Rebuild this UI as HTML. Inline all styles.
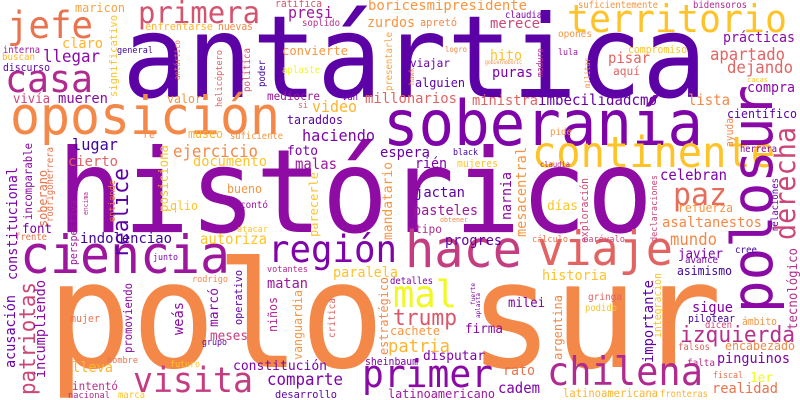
<!DOCTYPE html>
<html><head><meta charset="utf-8"><style>
html,body{margin:0;padding:0;background:#fff;}
svg{display:block;}
text{font-family:"DejaVu Sans Mono","Liberation Mono",monospace;}
</style></head><body>
<svg id="cloud" width="800" height="400" viewBox="0 0 800 400" xmlns="http://www.w3.org/2000/svg">
<rect width="800" height="400" fill="#fff"/>
</svg>
<script>
// horizontal (rot 0): xs = left, x1s = right, ys = baseline
// vertical  (rot 1): xs = baseline x, ys = bottom y, x1s = top y
const words = [
"antártica","histórico","polo sur","soberanía","oposición","territorio","jefe","casa","primera","ciencia",
"región","hace","viaje","continente","paz","derecha","polosur","visita","primer","chilena",
"mal","trump","izquierda","patriotas","presi","boricesmipresidente","zurdos","apretó","maricon","ratifica",
"enfrentarse","nuevas","soplido","significativo","claro","llegar","interna","buscan","discurso","general",
"convierte","antártico","helicóptero","política","poder","aplaste","presentarle","hawk","viajar","alguien",
"logro","mueren","vivía","valor","mediocre","van","si","video","millonarios","taraddos",
"suficientemente","bidensoros","claudia","merece","opones","prácticas","hito","compromiso","lula","pisar",
"apartado","dejando","aquí","gobiernoboric","puras","maduro","militar","cacas","compra","ministra",
"imbecilidadcmo","lista","científico","pide","ayuda","herrera","black","mujeres","claudia","celebran",
"mesacentral","narnia","exploración","declaraciones","relaciones","jactan","pasteles","obtener","días","refuerza",
"asaltanestos","progres","cálculo","earévalo","mundo","cree","javier","avance","tecnológico","historia",
"asimismo","fuerte","aplasta","integración","gringa","milei","sigue","podido","importante","argentina",
"pilotear","ámbito","dicen","firma","falsos","encabezado","disputar","rato","pinguinos","falta",
"fiscal","1er","cadem","realidad","latinoamericana","fronteras","latinoamericano","acusación","incumpliendo","promoviendo",
"weás","marcó","operativo","niños","vanguardia","critica","estratégico","rodrigo","mujer","matan",
"meses","cachete","patria","grupo","hombre","lleva","futuro","constitución","sheinbaum","comparte",
"intentó","nacional","marca","desarrollo","detalles","votantes","paralela","constitucional","incomparable","soberano",
"rodrigoherrera","perspectiva","encima","realice","entiende","posiciona","parecerle","mandatario","font","frente",
"indolenciao","autoriza","junto","atacar","qlio","contó","bueno","tipo","espera","haciendo",
"lugar","ejercicio","foto","cierto","documento","malas","rién","museo","suficiente","re"];
const xs = [
122,57,47,383,10,567,7,5,138,20,
268,405,537,532,673,795,772,133,362,547,
393,393,680,35,288,368,367,420,75,275,
145,218,302,117,62,43,3,2,3,117,
282,180,222,250,265,282,392,414,410,415,
445,58,13,167,267,342,298,312,365,287,
578,693,505,490,558,723,490,628,558,608,
710,727,613,485,492,543,590,747,747,472,
538,688,727,550,733,740,453,457,540,660,
526,511,588,657,778,415,413,440,547,678,
662,445,532,583,670,735,678,685,797,542,
677,475,480,661,588,508,692,585,653,562,
688,742,705,465,678,725,423,503,717,687,
713,750,498,712,563,660,388,15,45,132,
183,218,242,277,302,335,388,192,70,267,
210,390,388,202,107,72,170,233,365,267,
72,68,118,275,390,267,333,17,32,47,
53,77,88,128,115,168,318,392,22,15,
80,200,153,237,170,240,227,415,380,302,
72,173,287,68,193,295,415,188,230,143];
const x1s = [
707,653,722,703,280,787,93,93,260,230,
397,522,673,775,727,127,85,253,493,703,
457,457,795,282,333,527,415,457,125,322,
213,253,340,15,103,100,40,35,50,153,
348,40,50,48,60,320,32,68,450,465,
467,108,50,202,320,358,308,357,457,343,
658,747,542,540,592,795,522,687,578,650,
785,793,640,522,533,48,58,768,795,538,
657,730,797,572,118,777,478,498,570,727,
147,172,178,175,178,465,478,468,578,733,
762,502,568,625,717,757,723,718,248,607,
732,283,293,273,622,545,733,617,280,295,
735,777,732,503,710,795,485,535,790,715,
743,773,540,778,658,708,495,295,280,283,
302,288,270,297,290,298,277,228,100,308,
248,440,450,227,138,113,200,327,418,343,
118,110,145,337,433,308,398,167,143,170,
147,200,192,168,180,145,172,162,52,47,
172,267,178,268,198,268,262,442,430,375,
118,258,318,118,267,337,447,223,283,155];
const ys = [
97,232,367,145,134,32,38,92,23,273,
262,267,265,167,205,240,313,392,387,385,
307,325,342,395,18,10,27,26,12,7,
30,30,26,97,48,62,53,60,71,53,
55,80,107,92,87,73,91,85,67,87,
52,103,103,103,100,100,108,112,103,124,
8,8,18,28,37,42,60,53,55,63,
60,73,75,64,77,77,88,82,92,105,
105,105,118,135,147,152,155,167,167,180,
237,220,243,242,232,197,215,222,210,212,
227,245,242,242,245,253,258,263,330,280,
275,305,318,338,300,307,312,311,363,360,
322,325,328,333,350,350,360,375,363,366,
378,382,393,393,397,397,398,368,378,353,
335,327,325,332,360,338,355,282,322,288,
340,335,352,345,363,372,367,370,365,385,
390,398,398,398,284,272,277,280,220,227,
222,265,215,258,222,212,237,240,233,240,
243,244,260,232,210,208,193,233,157,141,
150,157,155,166,166,169,168,138,139,138];
const colors = [
"#5c01a6","#8e0ca4","#f48849","#7e03a8","#f48849","#fdc328","#e8734d","#b12a90","#d5536f","#9c179e",
"#7e03a8","#c33d80","#e16462","#fdc328","#e66c5c","#cc4778","#8b0aa5","#c33d80","#8b0aa5","#b12a90",
"#f0f921","#d8576b","#b52f8c","#cc4778","#9c179e","#f89540","#f89540","#f48849","#f9a342","#d8576b",
"#fdb42f","#f48849","#b52f8c","#fdc328","#fdb42f","#8b0aa5","#9c179e","#fdb42f","#5d01a6","#3f049c",
"#f89540","#e8734d","#e16462","#d5536f","#3f049c","#f0f921","#f9a342","#f48849","#6a00a8","#5d01a6",
"#f48849","#8b0aa5","#cc4778","#f89540","#9c179e","#7e03a8","#e16462","#fdb42f","#e16462","#5d01a6",
"#f89540","#b12a90","#7e03a8","#cc4778","#f89540","#8b0aa5","#fdc328","#fdc328","#9c179e","#e16462",
"#e16462","#e16462","#e16462","#f48849","#7e03a8","#b52f8c","#f89540","#fdc328","#8b0aa5","#e16462",
"#6a00a8","#f48849","#5d01a6","#f89540","#f48849","#7e03a8","#3f049c","#fdc328","#b12a90","#7e03a8",
"#f89540","#8b0aa5","#cc4778","#cc4778","#6a00a8","#5d01a6","#9c179e","#f48849","#fdc328","#f89540",
"#f48849","#5d01a6","#e8734d","#cc4778","#f48849","#3f049c","#7e03a8","#7e03a8","#b52f8c","#fdc328",
"#3f049c","#7e03a8","#7e03a8","#fdc328","#e16462","#7e03a8","#7e03a8","#fdc328","#5d01a6","#f48849",
"#3f049c","#f89540","#cc4778","#8b0aa5","#e16462","#f48849","#7e03a8","#e8734d","#7e03a8","#b52f8c",
"#e8734d","#f0f921","#7e03a8","#e8734d","#fdb42f","#fdb42f","#9c179e","#6a00a8","#8b0aa5","#8b0aa5",
"#8b0aa5","#8b0aa5","#5d01a6","#b12a90","#f89540","#e16462","#f48849","#f48849","#e8734d","#9c179e",
"#c33d80","#f89540","#fdb42f","#5d01a6","#e8734d","#fdb42f","#fdc328","#7e03a8","#7e03a8","#7e03a8",
"#b52f8c","#b12a90","#fdc328","#5d01a6","#7e03a8","#b12a90","#fdc328","#7e03a8","#8b0aa5","#e8734d",
"#e8734d","#9c179e","#b12a90","#5d01a6","#e8734d","#fdc328","#fdc328","#f89540","#7e03a8","#e8734d",
"#3f049c","#fdc328","#7e03a8","#fdc328","#fdc328","#9c179e","#f89540","#b12a90","#6a00a8","#7e03a8",
"#3f049c","#f48849","#7e03a8","#e16462","#fdc328","#9c179e","#7e03a8","#fdb42f","#f89540","#f48849"];
const rots = [
0,0,0,0,0,0,0,0,0,0,
0,0,0,0,0,1,1,0,0,0,
0,0,0,1,0,0,0,0,0,0,
0,0,0,1,0,0,0,0,0,0,
0,1,1,1,1,0,1,1,0,0,
0,0,0,0,0,0,0,0,0,0,
0,0,0,0,0,0,0,0,0,0,
0,0,0,0,0,1,1,0,0,0,
0,0,0,0,1,0,0,0,0,0,
1,1,1,1,1,0,0,0,0,0,
0,0,0,0,0,0,0,0,1,0,
0,1,1,1,0,0,0,0,1,1,
0,0,0,0,0,0,0,0,0,0,
0,0,0,0,0,0,0,1,1,1,
1,1,1,1,1,1,1,0,0,0,
0,0,0,0,0,0,0,0,0,0,
0,0,0,0,0,0,0,1,1,1,
1,1,1,1,1,1,1,1,0,0,
0,0,0,0,0,0,0,0,0,0,
0,0,0,0,0,0,0,0,0,0];
</script>
<script>
const svg = document.getElementById('cloud');
const NS = 'http://www.w3.org/2000/svg';
for (let i = 0; i < words.length; i++) {
  const t = document.createElementNS(NS, 'text');
  const n = Array.from(words[i]).length;
  const len = rots[i] === 0 ? (x1s[i] - xs[i]) : (ys[i] - x1s[i]);
  const size = Math.max(6, len / n * 1.75);
  t.textContent = words[i];
  t.setAttribute('font-size', size.toFixed(1));
  t.setAttribute('fill', colors[i]);
  t.setAttribute('lengthAdjust', 'spacingAndGlyphs');
  t.setAttribute('textLength', Math.max(4, len));
  t.setAttribute('x', xs[i]);
  t.setAttribute('y', ys[i]);
  if (rots[i] !== 0) {
    t.setAttribute('transform', 'rotate(-90 ' + xs[i] + ' ' + ys[i] + ')');
  }
  
  
  svg.appendChild(t);
}
</script>
</body></html>
